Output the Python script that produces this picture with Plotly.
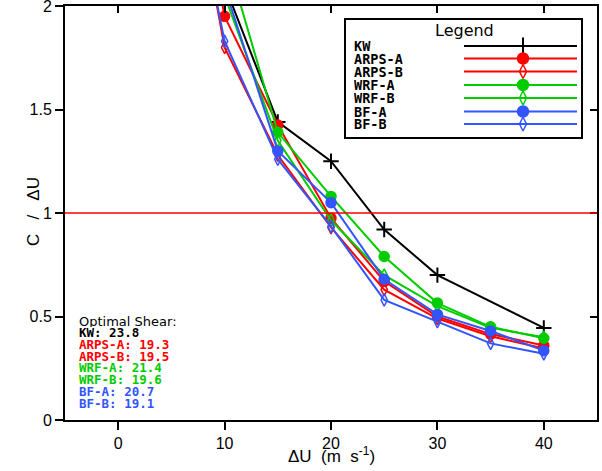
import plotly.graph_objects as go

# ---- data ----
names = ["KW", "ARPS-A", "ARPS-B", "WRF-A", "WRF-B", "BF-A", "BF-B"]
colors = ["#000000", "#ff0000", "#ff0000", "#00cc00", "#00cc00", "#3355ff", "#3355ff"]
symbols = ["cross-thin", "circle", "diamond-tall-open", "circle", "diamond-tall-open", "circle", "diamond-tall-open"]

x_kw = [10, 15, 20, 25, 30, 40]
y_kw = [2.10, 1.44, 1.25, 0.92, 0.70, 0.445]

x_mod = [5, 10, 15, 20, 25, 30, 35, 40]
y_arps_a = [3.35, 1.95, 1.425, 0.975, 0.67, 0.50, 0.415, 0.36]
y_arps_b = [3.20, 1.80, 1.28, 0.93, 0.63, 0.49, 0.405, 0.345]
y_wrf_a = [3.60, 2.27, 1.39, 1.08, 0.79, 0.565, 0.45, 0.395]
y_wrf_b = [3.40, 2.05, 1.35, 0.965, 0.70, 0.55, 0.445, 0.40]
y_bf_a = [3.40, 2.09, 1.30, 1.05, 0.68, 0.51, 0.43, 0.335]
y_bf_b = [3.10, 1.83, 1.26, 0.935, 0.58, 0.475, 0.37, 0.32]

series_x = [x_kw, x_mod, x_mod, x_mod, x_mod, x_mod, x_mod]
series_y = [y_kw, y_arps_a, y_arps_b, y_wrf_a, y_wrf_b, y_bf_a, y_bf_b]

optimal = [23.8, 19.3, 19.5, 21.4, 19.6, 20.7, 19.1]

x_ticks = [0, 10, 20, 30, 40]
y_ticks = [0, 0.5, 1, 1.5, 2]
y_ticklabels = ["0", "0.5", "1", "1.5", "2"]

FONT = "Liberation Sans"
TFONT = "DejaVu Sans"
MFONT = "DejaVu Sans Mono"

pl, pr, pt, pb = 65, 597, 6, 420
W, H = 602, 471
def px(xp):
    return (xp - pl) / (pr - pl)
def py(yp):
    return (pb - yp) / (pb - pt)

fig = go.Figure()

# reference line at C/dU = 1
fig.add_shape(type="line", xref="paper", yref="y", x0=0, x1=1, y0=1, y1=1,
              line=dict(color="#ff0000", width=1.5))

def msize(sym):
    if sym.startswith("cross"):
        return 11
    if sym.startswith("diamond"):
        return 9
    return 10

for nm, c, s, xs, ys in zip(names, colors, symbols, series_x, series_y):
    fig.add_trace(go.Scatter(
        x=xs, y=ys, mode="lines+markers", name=nm,
        line=dict(color=c, width=2),
        marker=dict(symbol=s, size=msize(s), color=c,
                    line=dict(color=c, width=2 if s.startswith("cross") else 1.5)),
        showlegend=False, xaxis="x", yaxis="y"))

# ---- custom legend (labels left, samples right) ----
leg_rows = [46, 58.5, 71.5, 85, 98, 111.5, 124]
for nm, c, s, ry in zip(names, colors, symbols, leg_rows):
    fig.add_trace(go.Scatter(x=[464, 577], y=[ry, ry], mode="lines",
                             line=dict(color=c, width=2), showlegend=False,
                             hoverinfo="skip", xaxis="x3", yaxis="y3"))
    fig.add_trace(go.Scatter(x=[523], y=[ry], mode="markers",
                             marker=dict(symbol=s, size=msize(s) + 1, color=c,
                                         line=dict(color=c, width=2 if s.startswith("cross") else 1.5)),
                             showlegend=False, hoverinfo="skip", xaxis="x3", yaxis="y3"))
    fig.add_annotation(x=352, y=ry, xref="x3", yref="y3", text="<b>" + nm + "</b>",
                       showarrow=False, xanchor="left", yanchor="middle", height=12,
                       font=dict(family=MFONT, size=13.5, color="black"))
fig.add_annotation(x=464, y=30, xref="x3", yref="y3", text="Legend", showarrow=False,
                   xanchor="center", yanchor="middle",
                   font=dict(family=TFONT, size=16, color="black"))

fig.add_shape(type="rect", xref="paper", yref="paper",
              x0=px(345), x1=px(582), y0=py(138), y1=py(19),
              line=dict(color="black", width=2), fillcolor="rgba(0,0,0,0)", layer="above")

# ---- optimal shear text ----
fig.add_annotation(x=px(77), y=py(321), xref="paper", yref="paper",
                   text="Optimal Shear:", showarrow=False, height=11,
                   xanchor="left", yanchor="middle",
                   font=dict(family=TFONT, size=13, color="black"))
for i, (nm, c, v) in enumerate(zip(names, colors, optimal)):
    fig.add_annotation(x=px(77), y=py(332.5 + i * 11.8), xref="paper", yref="paper",
                       text="<b>%s: %.1f</b>" % (nm, v), showarrow=False, height=11,
                       xanchor="left", yanchor="middle",
                       font=dict(family=MFONT, size=12.5, color=c))

# ---- axis titles ----
fig.add_annotation(x=px(331), y=py(455), xref="paper", yref="paper",
                   text="ΔU  (m  s<sup>-1</sup>)", showarrow=False,
                   xanchor="center", yanchor="middle",
                   font=dict(family=FONT, size=17, color="black"))
fig.add_annotation(x=px(33), y=py(212), xref="paper", yref="paper",
                   text="C   /   ΔU", showarrow=False, textangle=-90,
                   xanchor="center", yanchor="middle",
                   font=dict(family=FONT, size=17, color="black"))

axis_common = dict(showgrid=False, zeroline=False, tickcolor="black", tickwidth=1.5,
                   automargin=False, ticklabeloverflow="allow",
                   tickfont=dict(family=FONT, size=16, color="black"))

fig.update_layout(
    width=W, height=H,
    margin=dict(l=pl, r=W - pr, t=pt, b=H - pb, autoexpand=False),
    plot_bgcolor="white", paper_bgcolor="white",
    xaxis=dict(range=[-5, 45], tickvals=x_ticks, ticks="outside", ticklen=8,
               showline=True, linecolor="black", linewidth=2, mirror=True,
               **axis_common),
    yaxis=dict(range=[0, 2], tickvals=y_ticks, ticktext=y_ticklabels, ticks="outside",
               ticklen=8, showline=True, linecolor="black", linewidth=2, mirror=True,
               **axis_common),
    xaxis2=dict(range=[-5, 45], tickvals=x_ticks, ticks="inside", ticklen=7,
                overlaying="x", side="top", showticklabels=False, anchor="y",
                showline=False, **axis_common),
    yaxis2=dict(range=[0, 2], tickvals=y_ticks, ticks="inside", ticklen=7,
                overlaying="y", side="right", showticklabels=False, anchor="x",
                showline=False, **axis_common),
    xaxis3=dict(domain=[px(345), px(582)], range=[345, 582], visible=False,
                anchor="y3", fixedrange=True),
    yaxis3=dict(domain=[py(138), py(19)], range=[138, 19], visible=False,
                anchor="x3", fixedrange=True),
    showlegend=False,
)

# invisible trace so the overlay tick axes render
fig.add_trace(go.Scatter(x=[0], y=[0], xaxis="x2", yaxis="y2", mode="markers",
                         marker=dict(size=1, opacity=0), showlegend=False, hoverinfo="skip"))

fig.write_html("out.html", config={"displayModeBar": False},
               post_script="document.body.style.margin='0';document.body.style.overflow='hidden';")
